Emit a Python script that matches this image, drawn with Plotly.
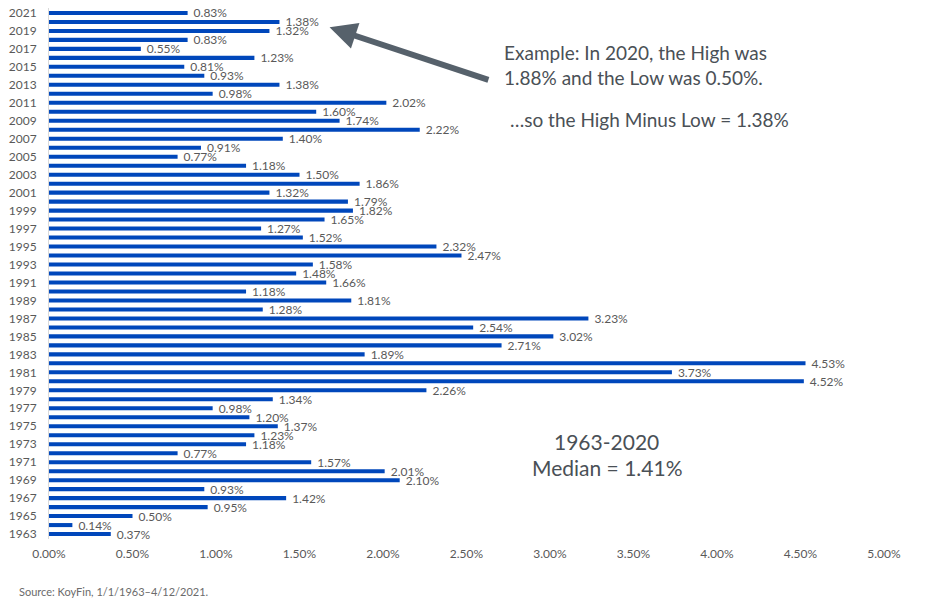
import plotly.graph_objects as go

years = list(range(2021, 1962, -1))
values = [0.83, 1.38, 1.32, 0.83, 0.55, 1.23, 0.81, 0.93, 1.38, 0.98,
          2.02, 1.60, 1.74, 2.22, 1.40, 0.91, 0.77, 1.18, 1.50, 1.86,
          1.32, 1.79, 1.82, 1.65, 1.27, 1.52, 2.32, 2.47, 1.58, 1.48,
          1.66, 1.18, 1.81, 1.28, 3.23, 2.54, 3.02, 2.71, 1.89, 4.53,
          3.73, 4.52, 2.26, 1.34, 0.98, 1.20, 1.37, 1.23, 1.18, 0.77,
          1.57, 2.01, 2.10, 0.93, 1.42, 0.95, 0.50, 0.14, 0.37]
x_ticks = [0, 0.5, 1.0, 1.5, 2.0, 2.5, 3.0, 3.5, 4.0, 4.5, 5.0]
y_ticks = list(range(1963, 2022, 2))

FONT = "Lato"
GRAY = "#595959"
DARK = "#4a5056"
BLUE = "#0047BB"

fig = go.Figure()
fig.add_trace(go.Bar(
    x=values, y=years, orientation="h", width=0.45,
    marker=dict(color=BLUE, line=dict(width=0)),
    text=[f"\u2002{v:.2f}%" for v in values], textposition="outside",
    textfont=dict(family=FONT, size=12, color=GRAY),
    constraintext="none", cliponaxis=False, hoverinfo="skip",
))

fig.update_layout(
    width=930, height=615,
    margin=dict(l=49, r=46, t=5, b=76),
    plot_bgcolor="white", paper_bgcolor="white",
    showlegend=False, bargap=0.55,
    font=dict(family=FONT, size=12, color=GRAY),
    xaxis=dict(range=[0, 5], tickvals=x_ticks,
               ticktext=[f"{t:.2f}%" for t in x_ticks],
               showgrid=False, zeroline=False, showline=False,
               tickfont=dict(size=12, color=GRAY), ticks="",
               ticklabelstandoff=6),
    yaxis=dict(range=[1962.45, 2021.55], tickvals=y_ticks,
               ticktext=[str(y) for y in y_ticks],
               showgrid=False, zeroline=False, showline=True,
               linecolor="#d9d9d9", linewidth=1, ticks="",
               ticklabelstandoff=9,
               tickfont=dict(size=12, color=GRAY)),
)

# arrow
fig.add_annotation(x=1.68, y=2019.4, ax=2.64, ay=2013.5,
                   xref="x", yref="y", axref="x", ayref="y",
                   text="", showarrow=True, arrowhead=2, arrowsize=0.9,
                   arrowwidth=6, arrowcolor="#56616b")

def txt(s, x, y, size, anchor="left"):
    fig.add_annotation(x=x, y=y, xref="x", yref="y", text=s, showarrow=False,
                       xanchor=anchor, yanchor="middle",
                       font=dict(family=FONT, size=size, color=DARK))

txt("Example: In 2020, the High was", 2.715, 2021 - (50 - 10) / 9.03, 19)
txt("1.88% and the Low was 0.50%.", 2.715, 2021 - (75 - 10) / 9.03, 19)
txt("\u2026so the High Minus Low = 1.38%", 2.75, 2021 - (117 - 10) / 9.03, 19)
txt("1963-2020", 3.34, 2021 - (441 - 10) / 9.03, 21, "center")
txt("Median = 1.41%", 3.34, 2021 - (467 - 10) / 9.03, 21, "center")

fig.add_annotation(x=(17 - 49) / 835, y=(539 - 592) / 534, xref="paper", yref="paper",
                   xanchor="left", yanchor="middle", showarrow=False,
                   text="Source: KoyFin, 1/1/1963\u20134/12/2021.",
                   font=dict(family=FONT, size=11, color="#6b6b6b"))

fig.write_html("out.html")
